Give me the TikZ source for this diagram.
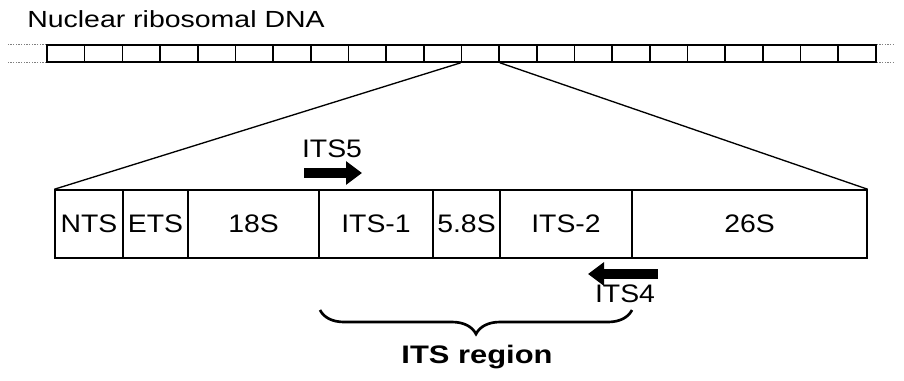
\documentclass[tikz,border=0pt]{standalone}
\usepackage{fontspec}
\setmainfont{Liberation Sans}[FakeStretch=1.12]
\newfontfamily\widefont{Liberation Sans}[FakeStretch=1.22]
\usetikzlibrary{arrows.meta,decorations.pathreplacing}
\tikzset{
  seg/.style={rectangle,draw=black,line width=1.2pt,minimum width=28.26pt,minimum height=12.75pt,inner sep=0pt},
  cell/.style={rectangle,draw=black,line width=1.1pt,minimum height=51pt,inner sep=0pt,font=\fontsize{19}{22}\selectfont},
  primer/.style={line width=8pt,-{Triangle[length=12pt,width=17pt]}},
  lbl/.style={anchor=base,font=\fontsize{19}{22}\selectfont},
}
\begin{document}
\begin{tikzpicture}[x=0.75pt,y=-0.75pt]
\useasboundingbox (0,0) rectangle (904,380);
\node[anchor=base west,inner sep=0pt,font=\widefont\fontsize{17.5}{20}\selectfont] (title) at (27,27) {Nuclear ribosomal DNA};
% strip of repeats
\foreach \i in {1,...,22}
  \node[seg] (d\i) at ({47+37.68*(\i-0.5)},53.5) {};
\coordinate (lend) at (8,53.5);
\coordinate (rend) at (895,53.5);
\draw[gray,densely dotted,line width=1pt] (d1.north west) -- (d1.north west -| lend);
\draw[gray,densely dotted,line width=1pt] (d1.south west) -- (d1.south west -| lend);
\draw[gray,densely dotted,line width=1pt] (d22.north east) -- (d22.north east -| rend);
\draw[gray,densely dotted,line width=1pt] (d22.south east) -- (d22.south east -| rend);
% one repeat, enlarged
\node[cell,minimum width=51pt] (nts) at (89,224) {NTS};
\node[cell,minimum width=48.75pt] (ets) at (155.5,224) {ETS};
\node[cell,minimum width=98.25pt] (s18) at (253.5,224) {18S};
\node[cell,minimum width=85.5pt] (its1) at (376,224) {ITS-1};
\node[cell,minimum width=50.25pt] (s58) at (466.5,224) {5.8S};
\node[cell,minimum width=99pt] (its2) at (566,224) {ITS-2};
\node[cell,minimum width=176.25pt] (s26) at (749.5,224) {26S};
\draw[line width=1pt] (d12.south west) -- (nts.north west);
\draw[line width=1pt] (d12.south east) -- (s26.north east);
% primers
\node[lbl] (its5) at (332,157) {ITS5};
\coordinate (f1) at (304,173);
\coordinate (f2) at (362,173);
\draw[primer] (f1) -- (f2);
\coordinate (r1) at (658,274);
\coordinate (r2) at (588,274);
\draw[primer] (r1) -- (r2);
\node[lbl] (its4) at (625,302) {ITS4};
% region
\coordinate (bl) at (320,310);
\coordinate (br) at (632,310);
\draw[line width=2pt,decorate,decoration={brace,mirror,amplitude=18pt}] (bl) -- (br);
\node[anchor=base,font=\widefont\bfseries\fontsize{19}{22}\selectfont] (region) at (477,363) {ITS region};
\end{tikzpicture}
\end{document}
